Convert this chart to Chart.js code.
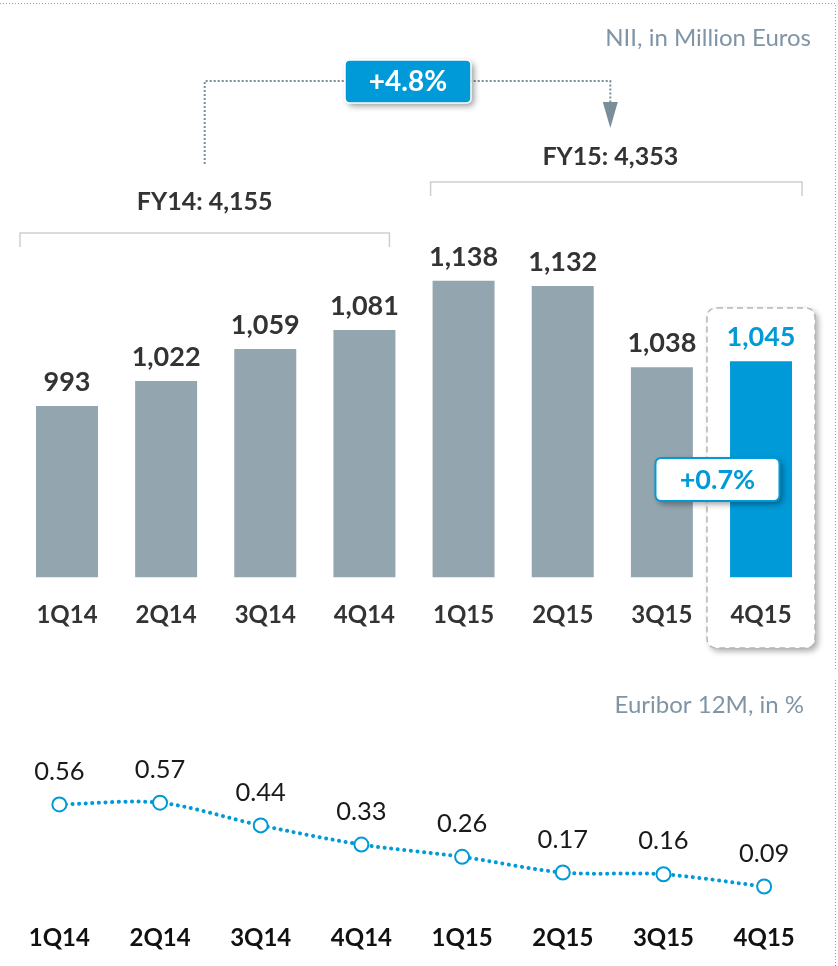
<!DOCTYPE html>
<html>
<head>
<meta charset="utf-8">
<script src="https://cdn.jsdelivr.net/npm/chart.js@4"></script>
<style>
  html, body { margin: 0; padding: 0; background: #fff; }
  #wrap { position: relative; width: 838px; height: 966px; overflow: hidden; }
  #niiChart { position: absolute; left: 0; top: 0; }
  #euriborChart { position: absolute; left: 0; top: 680px; }
</style>
</head>
<body>
<div id="wrap">
  <canvas id="niiChart" width="838" height="670"></canvas>
  <canvas id="euriborChart" width="838" height="310"></canvas>
</div>
<script>
// quarters shown on both charts
const quarters = ['1Q14', '2Q14', '3Q14', '4Q14', '1Q15', '2Q15', '3Q15', '4Q15'];
// NII per quarter, million euros
const nii = [993, 1022, 1059, 1081, 1138, 1132, 1038, 1045];
// Euribor 12M, %
const euribor = [0.56, 0.57, 0.44, 0.33, 0.26, 0.17, 0.16, 0.09];
// yearly totals and growth callouts
const fyLabels = ['FY14: 4,155', 'FY15: 4,353'];
const yoyGrowth = '+4.8%';
const qoqGrowth = '+0.7%';

const GREY = '#93a5ae';
const BLUE = '#009ad8';
const DARK = '#333333';
const FONT = 'Lato, "Open Sans", sans-serif';

function roundRect(ctx, x, y, w, h, r) {
  ctx.beginPath();
  ctx.moveTo(x + r, y);
  ctx.lineTo(x + w - r, y);
  ctx.quadraticCurveTo(x + w, y, x + w, y + r);
  ctx.lineTo(x + w, y + h - r);
  ctx.quadraticCurveTo(x + w, y + h, x + w - r, y + h);
  ctx.lineTo(x + r, y + h);
  ctx.quadraticCurveTo(x, y + h, x, y + h - r);
  ctx.lineTo(x, y + r);
  ctx.quadraticCurveTo(x, y, x + r, y);
  ctx.closePath();
}

// decorations for the bar chart
const niiDeco = {
  id: 'niiDeco',
  beforeDraw(chart) {
    const ctx = chart.ctx;
    const xs = chart.scales.x;
    const last = xs.getPixelForValue(quarters.length - 1);
    // frame of the page (dotted)
    ctx.save();
    ctx.strokeStyle = '#9a9a9a';
    ctx.lineWidth = 1;
    ctx.setLineDash([1, 2]);
    ctx.beginPath();
    ctx.moveTo(0, 3.5); ctx.lineTo(835.5, 3.5); ctx.lineTo(835.5, 670);
    ctx.stroke();
    ctx.restore();

    // highlight box of last quarter
    ctx.save();
    ctx.shadowColor = 'rgba(0,0,0,0.35)';
    ctx.shadowBlur = 6;
    ctx.shadowOffsetX = 3;
    ctx.shadowOffsetY = 3;
    ctx.fillStyle = '#fff';
    roundRect(ctx, last - 54, 308, 108, 340, 10);
    ctx.fill();
    ctx.restore();
    ctx.save();
    ctx.strokeStyle = '#b5b5b5';
    ctx.lineWidth = 1.5;
    ctx.setLineDash([6, 4]);
    roundRect(ctx, last - 54, 308, 108, 340, 10);
    ctx.stroke();
    ctx.restore();
  },
  afterDatasetsDraw(chart) {
    const ctx = chart.ctx;
    const xs = chart.scales.x;
    const meta = chart.getDatasetMeta(0);

    // value labels
    ctx.save();
    ctx.font = 'bold 27px ' + FONT;
    ctx.textAlign = 'center';
    ctx.textBaseline = 'middle';
    meta.data.forEach((bar, i) => {
      ctx.fillStyle = i === nii.length - 1 ? BLUE : DARK;
      ctx.fillText(nii[i].toLocaleString('en-US'), bar.x, bar.y - 24);
    });
    ctx.restore();

    // title
    ctx.save();
    ctx.font = '24px ' + FONT;
    ctx.fillStyle = '#7f95a6';
    ctx.textAlign = 'right';
    ctx.textBaseline = 'middle';
    ctx.fillText('NII, in Million Euros', 811, 38);
    ctx.restore();

    // year brackets
    const b14 = [xs.getPixelForValue(0) - 47, xs.getPixelForValue(3) + 25, 233];
    const b15 = [xs.getPixelForValue(4) - 33, xs.getPixelForValue(7) + 41, 182];
    ctx.save();
    ctx.strokeStyle = '#cfcfcf';
    ctx.lineWidth = 1.5;
    [b14, b15].forEach(b => {
      ctx.beginPath();
      ctx.moveTo(b[0], b[2] + 14); ctx.lineTo(b[0], b[2]);
      ctx.lineTo(b[1], b[2]); ctx.lineTo(b[1], b[2] + 14);
      ctx.stroke();
    });
    ctx.font = 'bold 25px ' + FONT;
    ctx.fillStyle = DARK;
    ctx.textAlign = 'center';
    ctx.textBaseline = 'middle';
    const m14 = (b14[0] + b14[1]) / 2;
    const m15 = (b15[0] + b15[1]) / 2 - 6;
    ctx.fillText(fyLabels[0], m14, 202);
    ctx.fillText(fyLabels[1], m15, 157);
    ctx.restore();

    // dotted arrow FY14 -> FY15
    ctx.save();
    ctx.strokeStyle = '#7a8d99';
    ctx.lineWidth = 2;
    ctx.setLineDash([2, 2]);
    ctx.beginPath();
    ctx.moveTo(m14, 164); ctx.lineTo(m14, 81); ctx.lineTo(m15, 81); ctx.lineTo(m15, 104);
    ctx.stroke();
    ctx.setLineDash([]);
    ctx.fillStyle = '#7a8d99';
    ctx.beginPath();
    ctx.moveTo(m15 - 7.5, 102); ctx.lineTo(m15 + 7.5, 102); ctx.lineTo(m15, 128);
    ctx.closePath();
    ctx.fill();
    ctx.restore();

    // +4.8% box
    ctx.save();
    ctx.shadowColor = 'rgba(0,0,0,0.4)';
    ctx.shadowBlur = 6;
    ctx.shadowOffsetX = 3;
    ctx.shadowOffsetY = 3;
    ctx.fillStyle = BLUE;
    roundRect(ctx, 345, 60, 126, 43, 5);
    ctx.fill();
    ctx.shadowColor = 'transparent';
    ctx.strokeStyle = '#fff';
    ctx.lineWidth = 1.5;
    ctx.stroke();
    ctx.fillStyle = '#fff';
    ctx.font = 'bold 28px ' + FONT;
    ctx.textAlign = 'center';
    ctx.textBaseline = 'middle';
    ctx.fillText(yoyGrowth, 408, 82);
    ctx.restore();

    // +0.7% box
    const qx = (xs.getPixelForValue(6) + xs.getPixelForValue(7)) / 2 + 6;
    ctx.save();
    ctx.shadowColor = 'rgba(0,0,0,0.4)';
    ctx.shadowBlur = 6;
    ctx.shadowOffsetX = 3;
    ctx.shadowOffsetY = 3;
    ctx.fillStyle = '#fff';
    roundRect(ctx, qx - 62, 458, 124, 43, 6);
    ctx.fill();
    ctx.shadowColor = 'transparent';
    ctx.strokeStyle = BLUE;
    ctx.lineWidth = 2;
    ctx.stroke();
    ctx.fillStyle = BLUE;
    ctx.font = 'bold 27px ' + FONT;
    ctx.textAlign = 'center';
    ctx.textBaseline = 'middle';
    ctx.fillText(qoqGrowth, qx, 480);
    ctx.restore();
  }
};

new Chart(document.getElementById('niiChart').getContext('2d'), {
  type: 'bar',
  data: {
    labels: quarters,
    datasets: [{
      data: nii,
      backgroundColor: nii.map((v, i) => i === nii.length - 1 ? BLUE : GREY),
      barPercentage: 0.625,
      categoryPercentage: 1
    }]
  },
  options: {
    responsive: false,
    animation: false,
    layout: { padding: { left: 17.4, right: 27.4, top: 200, bottom: 17 } },
    plugins: { legend: { display: false }, tooltip: { enabled: false } },
    scales: {
      x: {
        grid: { display: false, drawTicks: false },
        border: { display: false },
        ticks: { color: DARK, font: { family: FONT, size: 24, weight: 'bold' }, padding: 23.5 }
      },
      y: { display: false, min: 795, max: 1231.5 }
    }
  },
  plugins: [niiDeco]
});

// decorations for the line chart
const euriborDeco = {
  id: 'euriborDeco',
  beforeDraw(chart) {
    const ctx = chart.ctx;
    ctx.save();
    ctx.strokeStyle = '#9a9a9a';
    ctx.lineWidth = 1;
    ctx.setLineDash([1, 2]);
    ctx.beginPath();
    ctx.moveTo(835.5, 0); ctx.lineTo(835.5, 310);
    ctx.stroke();
    ctx.restore();
  },
  afterDatasetsDraw(chart) {
    const ctx = chart.ctx;
    const meta = chart.getDatasetMeta(0);
    ctx.save();
    ctx.font = '25.5px ' + FONT;
    ctx.fillStyle = '#1a1a1a';
    ctx.textAlign = 'center';
    ctx.textBaseline = 'middle';
    meta.data.forEach((pt, i) => {
      ctx.fillText(euribor[i].toFixed(2), pt.x, pt.y - 33);
    });
    ctx.font = '24px ' + FONT;
    ctx.fillStyle = '#7f95a6';
    ctx.textAlign = 'right';
    ctx.fillText('Euribor 12M, in %', 804, 25);
    ctx.restore();
  }
};

new Chart(document.getElementById('euriborChart').getContext('2d'), {
  type: 'line',
  data: {
    labels: quarters,
    datasets: [{
      data: euribor,
      borderColor: BLUE,
      borderWidth: 4,
      borderDash: [0.1, 6.5],
      borderCapStyle: 'round',
      tension: 0.3,
      pointRadius: 7,
      pointBorderWidth: 2,
      pointBorderColor: BLUE,
      pointBackgroundColor: '#fff'
    }]
  },
  options: {
    responsive: false,
    animation: false,
    layout: { padding: { left: 6.5, right: 23.5, top: 47.6, bottom: 15 } },
    plugins: { legend: { display: false }, tooltip: { enabled: false } },
    scales: {
      x: {
        offset: true,
        grid: { display: false, drawTicks: false },
        border: { display: false },
        ticks: { color: '#111', font: { family: FONT, size: 24, weight: 'bold' }, padding: 22 }
      },
      y: { display: false, min: 0, max: 1 }
    }
  },
  plugins: [euriborDeco]
});
</script>
</body>
</html>
